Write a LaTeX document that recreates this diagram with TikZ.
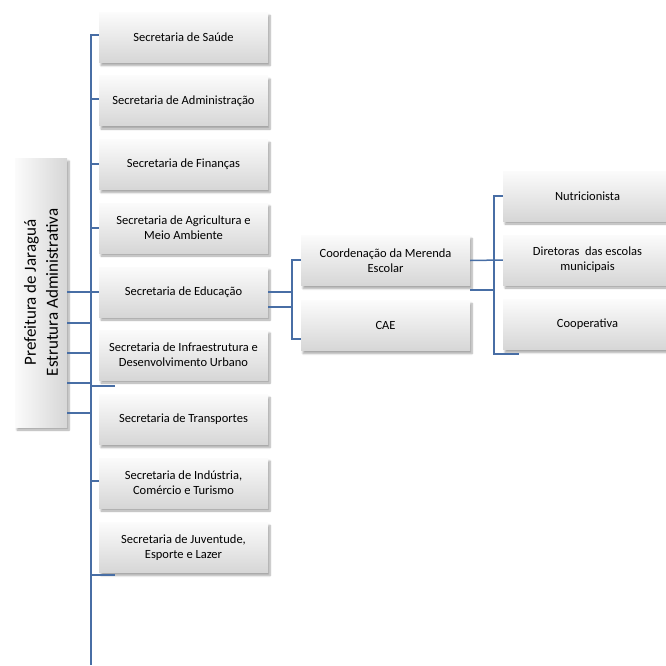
\documentclass[tikz,border=0pt]{standalone}
\usepackage{fontspec}
\setmainfont{Carlito}
\usetikzlibrary{shadows.blur}
\definecolor{lineblue}{RGB}{72,110,165}
\begin{document}
\begin{tikzpicture}[x=1pt,y=-1pt,
  box/.style={minimum width=169pt, minimum height=50pt, top color=gray!3, bottom color=gray!32,
    align=center, inner sep=2pt, font=\fontsize{12.5}{14.8}\selectfont,
    blur shadow={shadow xshift=2pt, shadow yshift=-3pt, shadow blur steps=6, shadow opacity=35}},
  leftbox/.style={minimum width=52pt, minimum height=269pt, left color=gray!3, right color=gray!32,
    blur shadow={shadow xshift=2pt, shadow yshift=-3pt, shadow blur steps=6, shadow opacity=35}},
  conn/.style={draw=lineblue, line width=1.5pt}]
\useasboundingbox (0,0) rectangle (666,666);
% left column
\node[box] (saude) at (183.5,37.5) {Secretaria de Saúde};
\node[box] (adm) at (183.5,101) {Secretaria de Administração};
\node[box] (fin) at (183.5,164.5) {Secretaria de Finanças};
\node[box] (agr) at (183.5,228) {Secretaria de Agricultura e\\Meio Ambiente};
\node[box] (edu) at (183.5,292) {Secretaria de Educação};
\node[box] (inf) at (183.5,355) {Secretaria de Infraestrutura e\\Desenvolvimento Urbano};
\node[box] (tra) at (183.5,419.5) {Secretaria de Transportes};
\node[box] (ind) at (183.5,483) {Secretaria de Indústria,\\Comércio e Turismo};
\node[box] (juv) at (183.5,547.5) {Secretaria de Juventude,\\Esporte e Lazer};
% middle
\node[box] (mer) at (385.5,260.5) {Coordenação da Merenda\\Escolar};
\node[box] (cae) at (385.5,325.5) {CAE};
% right
\node[box] (nut) at (587.5,196) {Nutricionista};
\node[box] (dir) at (587.5,260) {Diretoras\ \ das escolas\\municipais};
\node[box] (coo) at (587.5,324.5) {Cooperativa};
% left node
\node[leftbox] (pref) at (41,292.5) {};
\node[rotate=90, align=center, font=\fontsize{17}{22}\selectfont] (preftext) at (pref.center) {Prefeitura de Jaraguá\\Estrutura Administrativa};
% trunk
\coordinate (tA) at (91,35);
\coordinate (tB) at (91,665);
\draw[conn] (saude.west |- tA) -- (tA) -- (tB);
\draw[conn] (tA |- 0,99) -- (adm.west |- 0,99);
\draw[conn] (tA |- 0,164) -- (fin.west |- 0,164);
\draw[conn] (tA |- 0,228) -- (agr.west |- 0,228);
\draw[conn] (pref.east |- edu.west) -- (edu.west);
\draw[conn] (pref.east |- 0,323) -- (tA |- 0,323);
\draw[conn] (pref.east |- 0,353) -- (tA |- 0,353);
\draw[conn] (pref.east |- 0,383) -- (tA |- 0,383);
\draw[conn] (pref.east |- 0,413) -- (tA |- 0,413);
\draw[conn] (tA |- 0,386) -- (115,386);
\draw[conn] (tA |- 0,481) -- (ind.west |- 0,481);
\draw[conn] (tA |- 0,575) -- (115,575);
% education branch
\coordinate (eA) at (292,260);
\coordinate (eB) at (292,339);
\draw[conn] (edu.east) -- (eA |- edu.east);
\draw[conn] (edu.east |- 0,307) -- (eA |- 0,307);
\draw[conn] (mer.west |- eA) -- (eA) -- (eB) -- (cae.west |- eB);
% merenda branch
\coordinate (mA) at (494,196);
\coordinate (mB) at (494,354);
\draw[conn] (mer.east) -- (dir.west);
\draw[conn] (mer.east |- 0,290) -- (mA |- 0,290);
\draw[conn] (nut.west) -- (mA) -- (mB) -- (519,354);
\end{tikzpicture}
\end{document}
